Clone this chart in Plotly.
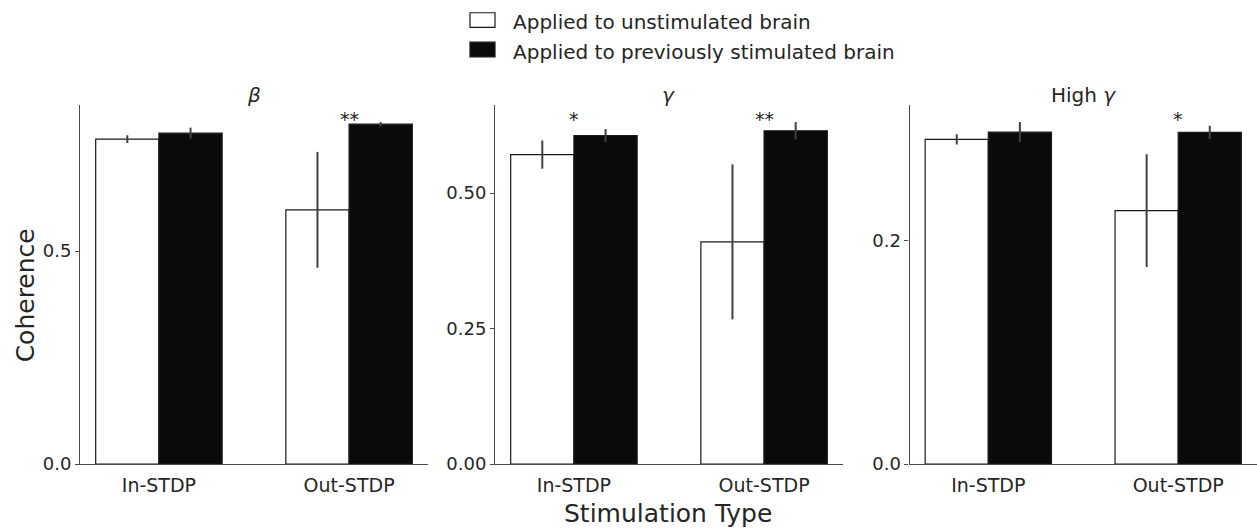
import plotly.graph_objects as go

# Coherence per frequency band, grouped by stimulation type
categories = ["In-STDP", "Out-STDP"]
bands = ["<i>β</i>", "<i>γ</i>", "High <i>γ</i>"]

unstim_mean = [[0.763, 0.597], [0.571, 0.410], [0.2907, 0.227]]
unstim_err = [[0.009, 0.136], [0.026, 0.143], [0.0045, 0.0505]]
prev_mean = [[0.777, 0.798], [0.606, 0.615], [0.2972, 0.297]]
prev_err = [[0.013, 0.005], [0.012, 0.016], [0.009, 0.006]]

# significance marks (band index, category index, label)
stars = [(0, 1, "**"), (1, 0, "*"), (1, 1, "**"), (2, 1, "*")]

yticks = [[0.0, 0.5], [0.0, 0.25, 0.5], [0.0, 0.2]]
ytickfmt = [".1f", ".2f", ".1f"]

series_names = ["Applied to unstimulated brain", "Applied to previously stimulated brain"]
series_fill = ["white", "#0a0a0a"]

W, H = 1257, 531
TXT = "#262626"
FONT = "DejaVu Sans"

# panel geometry in pixels
x_left = [80, 495, 909.5]
x_right = [428, 843, 1257.5]
y_top, y_base = 107, 473

fig = go.Figure()
xpos = [0, 1]

for i in range(3):
    sfx = "" if i == 0 else str(i + 1)
    fig.add_trace(go.Bar(
        x=xpos, y=unstim_mean[i], name=series_names[0],
        marker=dict(color=series_fill[0], line=dict(color="#1a1a1a", width=1.2)),
        error_y=dict(type="data", array=unstim_err[i], width=0, thickness=2, color="#404040"),
        xaxis="x" + sfx, yaxis="y" + sfx, showlegend=False,
    ))
    fig.add_trace(go.Bar(
        x=xpos, y=prev_mean[i], name=series_names[1],
        marker=dict(color=series_fill[1], line=dict(color="#1a1a1a", width=1.2)),
        error_y=dict(type="data", array=prev_err[i], width=0, thickness=2, color="#404040"),
        xaxis="x" + sfx, yaxis="y" + sfx, showlegend=False,
    ))

layout = dict(
    width=W, height=H,
    margin=dict(l=0, r=0, t=0, b=0),
    paper_bgcolor="white", plot_bgcolor="white",
    barmode="group", bargap=0.335, bargroupgap=0,
    font=dict(family=FONT, color=TXT, size=18),
)

annotations = []
shapes = []
for i in range(3):
    sfx = "" if i == 0 else str(i + 1)
    top = max(max(m + e for m, e in zip(unstim_mean[i], unstim_err[i])),
              max(m + e for m, e in zip(prev_mean[i], prev_err[i])))
    ymax = top * 1.05
    layout["xaxis" + sfx] = dict(
        domain=[x_left[i] / W, min(x_right[i] / W, 1.0)],
        range=[-0.415, 1.415],
        tickvals=xpos, ticktext=categories,
        showline=True, linecolor="#4a4a4a", linewidth=1.1,
        ticks="", showgrid=False, zeroline=False,
        tickfont=dict(size=19, color=TXT), ticklabelstandoff=4,
        anchor="y" + sfx, fixedrange=True,
    )
    layout["yaxis" + sfx] = dict(
        domain=[1 - y_base / H, 1 - y_top / H],
        range=[0, ymax],
        tickvals=yticks[i], tickformat=ytickfmt[i],
        showline=True, linecolor="#4a4a4a", linewidth=1.1,
        ticks="outside", ticklen=4, tickcolor="#4a4a4a",
        showgrid=False, zeroline=False,
        tickfont=dict(size=18, color=TXT),
        anchor="x" + sfx, fixedrange=True,
    )
    # band title above each panel
    annotations.append(dict(
        text=bands[i], x=(x_left[i] + min(x_right[i], W)) / 2 / W, y=1 - 97 / H,
        xref="paper", yref="paper", showarrow=False,
        font=dict(size=20, color=TXT), xanchor="center", yanchor="middle",
    ))

for (b, c, lab) in stars:
    sfx = "" if b == 0 else str(b + 1)
    top = max(max(m + e for m, e in zip(unstim_mean[b], unstim_err[b])),
              max(m + e for m, e in zip(prev_mean[b], prev_err[b])))
    annotations.append(dict(
        text=lab, x=xpos[c], y=top * 1.02, xref="x" + sfx, yref="y" + sfx,
        showarrow=False, font=dict(size=19, color=TXT),
        xanchor="center", yanchor="middle", yshift=-4,
    ))

# legend: swatch + label per series
leg_rows = [20.5, 50.5]
for k in range(2):
    yc = leg_rows[k]
    shapes.append(dict(
        type="rect", xref="paper", yref="paper",
        x0=470 / W, x1=495 / W, y0=1 - (yc - 7.5) / H, y1=1 - (yc + 7.5) / H,
        fillcolor=series_fill[k], line=dict(color="#1a1a1a", width=1.2),
    ))
    annotations.append(dict(
        text=series_names[k], x=511 / W, y=1 - (yc + 2) / H,
        xref="paper", yref="paper", showarrow=False,
        font=dict(size=20, color=TXT), xanchor="left", yanchor="middle",
    ))

annotations.append(dict(
    text="Coherence", x=25 / W, y=1 - 301 / H, xref="paper", yref="paper",
    showarrow=False, textangle=-90, font=dict(size=25, color=TXT),
    xanchor="center", yanchor="middle",
))
annotations.append(dict(
    text="Stimulation Type", x=668 / W, y=1 - 523 / H, xref="paper", yref="paper",
    showarrow=False, font=dict(size=25, color=TXT),
    xanchor="center", yanchor="middle",
))
layout["annotations"] = annotations
layout["shapes"] = shapes

fig.update_layout(**layout)
fig.write_html("out.html")
